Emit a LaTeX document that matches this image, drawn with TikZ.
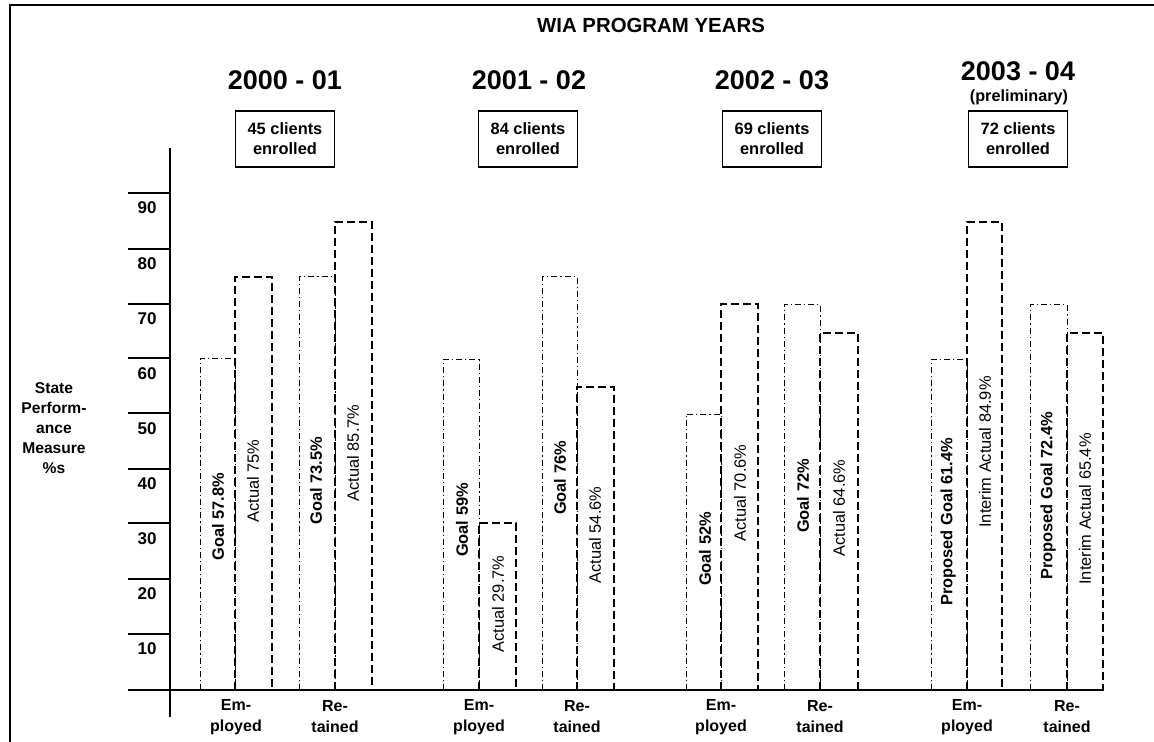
\documentclass[tikz,border=0pt]{standalone}
\usepackage{fontspec}
\setmainfont{Liberation Sans}
\usepackage{tikz}
\usetikzlibrary{positioning}

\tikzset{
  goalbar/.style={line width=0.5pt, dash pattern=on 3pt off 1.5pt on 0.6pt off 1.5pt},
  actbar/.style={line width=1pt, dash pattern=on 4pt off 2pt},
  goallbl/.style={rotate=90, inner sep=0pt, font=\bfseries\fontsize{8.2}{10}\selectfont},
  actlbl/.style={rotate=90, inner sep=0pt, font=\fontsize{8.2}{10}\selectfont},
  yearlbl/.style={inner sep=0pt, font=\bfseries\fontsize{13.5}{16}\selectfont},
  clientbox/.style={draw, line width=0.6pt, align=center, minimum width=49.5pt, minimum height=28pt, inner sep=0pt, font=\bfseries\fontsize{8.2}{10}\selectfont},
  catlbl/.style={align=center, inner sep=0pt, font=\bfseries\fontsize{8}{10.5}\selectfont},
  ticklbl/.style={inner sep=0pt, font=\bfseries\fontsize{8.5}{10}\selectfont},
  tickline/.style={line width=0.7pt},
}

\begin{document}
\begin{tikzpicture}[x=0.5pt,y=-0.5pt]
	\useasboundingbox (0,0) rectangle (1154,742);
	% frame
	\coordinate (fbl) at (10,742);
	\coordinate (ftl) at (10,5);
	\coordinate (ftr) at (1154,5);
	\draw[line width=0.8pt] (fbl) -- (ftl) -- (ftr);
	\node[inner sep=0pt, font=\bfseries\fontsize{10.2}{12}\selectfont] (Title) at (651,25) {WIA PROGRAM YEARS};

	% years and enrolment
	\node[yearlbl] (Y1) at (285,80) {2000 - 01};
	\node[yearlbl] (Y2) at (529,80) {2001 - 02};
	\node[yearlbl] (Y3) at (772,80) {2002 - 03};
	\node[yearlbl] (Y4) at (1018,71) {2003 - 04};
	\node[inner sep=0pt, font=\bfseries\fontsize{8.1}{10}\selectfont] (Prelim) at (1019,97) {(preliminary)};
	\node[clientbox] (C1) at (285,139) {45 clients\\enrolled};
	\node[clientbox] (C2) at (528,139) {84 clients\\enrolled};
	\node[clientbox] (C3) at (772,139) {69 clients\\enrolled};
	\node[clientbox] (C4) at (1018,139) {72 clients\\enrolled};

	% axes
	\coordinate (Ytop) at (170,148);
	\coordinate (Ybot) at (170,717);
	\coordinate (Xleft) at (128,690);
	\coordinate (Xright) at (1103,690);
	\draw[line width=0.8pt] (Ytop) -- (Ybot);
	\draw[line width=0.8pt] (Xleft) -- (Xright);
	\node[align=center, inner sep=0pt, font=\bfseries\fontsize{7.8}{10}\selectfont] (Ylabel) at (54,428) {State\\Perform-\\ance\\Measure\\\%s};

	% ticks
	\draw[tickline] (128,193) -- (170,193); \node[ticklbl] (T90) at (147,208) {90};
	\draw[tickline] (128,249) -- (170,249); \node[ticklbl] (T80) at (147,264) {80};
	\draw[tickline] (128,304) -- (170,304); \node[ticklbl] (T70) at (147,319) {70};
	\draw[tickline] (128,358) -- (170,358); \node[ticklbl] (T60) at (147,374) {60};
	\draw[tickline] (128,413) -- (170,413); \node[ticklbl] (T50) at (147,429) {50};
	\draw[tickline] (128,469) -- (170,469); \node[ticklbl] (T40) at (147,484) {40};
	\draw[tickline] (128,523) -- (170,523); \node[ticklbl] (T30) at (147,539) {30};
	\draw[tickline] (128,579) -- (170,579); \node[ticklbl] (T20) at (147,594) {20};
	\draw[tickline] (128,634) -- (170,634); \node[ticklbl] (T10) at (147,649) {10};

	% 2000 - 01
	\draw[goalbar] (200,690) rectangle (235,359);
	\draw[actbar] (235,690) rectangle (272,277);
	\draw[goalbar] (299,690) rectangle (335,277);
	\draw[actbar] (335,690) rectangle (372,222);
	\node[goallbl] (G1e) at (218,517) {Goal 57.8\%};
	\node[actlbl] (A1e) at (253,481) {Actual 75\%};
	\node[goallbl] (G1r) at (316,481) {Goal 73.5\%};
	\node[actlbl] (A1r) at (353,453) {Actual 85.7\%};

	% 2001 - 02
	\draw[goalbar] (443,690) rectangle (479,360);
	\draw[actbar] (479,690) rectangle (516,523);
	\draw[goalbar] (542,690) rectangle (577,277);
	\draw[actbar] (577,690) rectangle (614,387);
	\node[goallbl] (G2e) at (462,520) {Goal 59\%};
	\node[actlbl] (A2e) at (498,604) {Actual 29.7\%};
	\node[goallbl] (G2r) at (560,478) {Goal 76\%};
	\node[actlbl] (A2r) at (595,535) {Actual 54.6\%};

	% 2002 - 03
	\draw[goalbar] (686,690) rectangle (721,414);
	\draw[actbar] (721,690) rectangle (758,304);
	\draw[goalbar] (784,690) rectangle (820,305);
	\draw[actbar] (820,690) rectangle (858,333);
	\node[goallbl] (G3e) at (705,549) {Goal 52\%};
	\node[actlbl] (A3e) at (740,493) {Actual 70.6\%};
	\node[goallbl] (G3r) at (803,496) {Goal 72\%};
	\node[actlbl] (A3r) at (839,508) {Actual 64.6\%};

	% 2003 - 04
	\draw[goalbar] (931,690) rectangle (967,360);
	\draw[actbar] (967,690) rectangle (1002,222);
	\draw[goalbar] (1030,690) rectangle (1067,305);
	\draw[actbar] (1067,690) rectangle (1103,333);
	\node[goallbl] (G4e) at (948,522) {Proposed Goal 61.4\%};
	\node[actlbl] (A4e) at (985,452) {Interim Actual 84.9\%};
	\node[goallbl] (G4r) at (1048,496) {Proposed Goal 72.4\%};
	\node[actlbl] (A4r) at (1085,509) {Interim Actual 65.4\%};

	% categories
	\node[catlbl] (E1) at (236,717) {Em-\\ployed};
	\node[catlbl] (R1) at (335,717) {Re-\\tained};
	\node[catlbl] (E2) at (479,717) {Em-\\ployed};
	\node[catlbl] (R2) at (577,717) {Re-\\tained};
	\node[catlbl] (E3) at (721,717) {Em-\\ployed};
	\node[catlbl] (R3) at (820,717) {Re-\\tained};
	\node[catlbl] (E4) at (967,717) {Em-\\ployed};
	\node[catlbl] (R4) at (1067,717) {Re-\\tained};
\end{tikzpicture}
\end{document}
